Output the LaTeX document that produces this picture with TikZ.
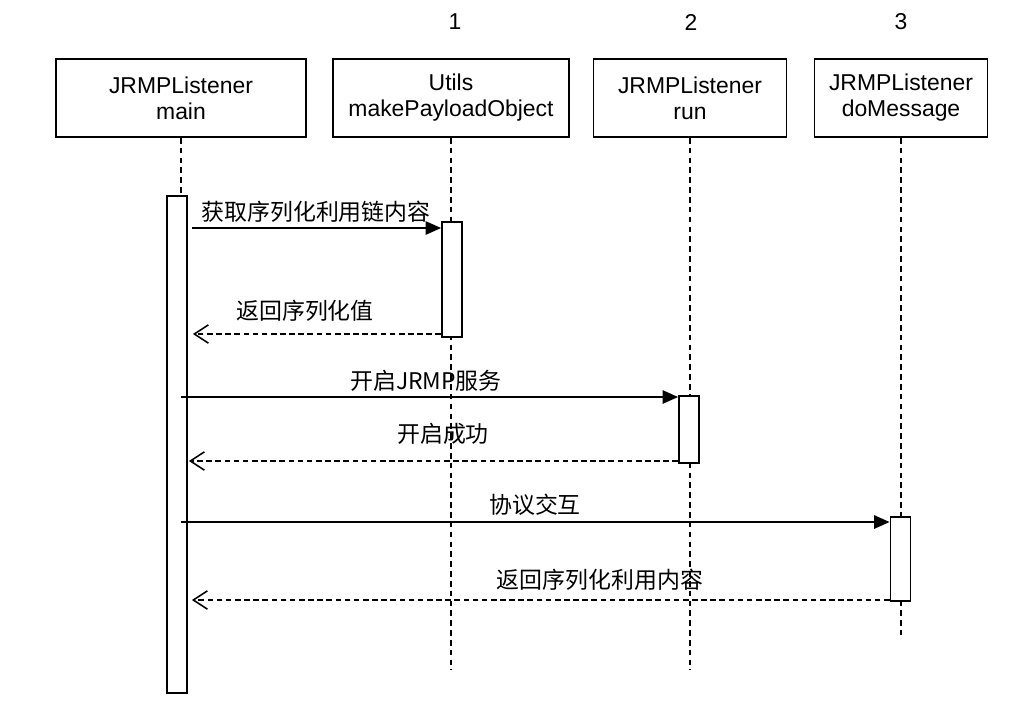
\documentclass[tikz,border=0pt]{standalone}
\usepackage{fontspec}
\setmainfont{Liberation Sans}
\newfontfamily\cjk{Noto Sans CJK SC}
\usepackage{tikz}
\usetikzlibrary{positioning,calc,arrows.meta}

\newcommand\lbl{\fontsize{16.3}{18.4}\selectfont}

\tikzset{
  obj/.style={draw, line width=1.3pt, minimum height=1.95cm, align=center, font=\lbl},
  bar/.style={draw, fill=white, line width=1.3pt, minimum width=0.5cm, inner sep=0pt, anchor=north},
  life/.style={line width=1pt, dash pattern=on 4pt off 3pt},
  call/.style={line width=1.2pt, -{Triangle[length=11pt,width=9.5pt]}},
  reply/.style={line width=1.1pt, dash pattern=on 4pt off 2.5pt, -{Straight Barb[length=10pt,width=13pt,line width=1.1pt]}},
  msg/.style={font=\cjk\lbl}
}

\begin{document}
\begin{tikzpicture}[x=0.025cm, y=-0.025cm]
\useasboundingbox (0,0) rectangle (1033,700);

% objects
\node[obj, minimum width=6.25cm] (main) at (181,98) {JRMPListener\\main};
\node[obj, minimum width=5.9cm] (utils) at (451,98) {Utils\\makePayloadObject};
\node[obj, minimum width=4.825cm] (run) at (690,98) {JRMPListener\\run};
\node[obj, minimum width=4.325cm] (domsg) at (901,98) {JRMPListener\\doMessage};

% step numbers
\node[font=\lbl] (n1) at (455,22) {1};
\node[font=\lbl] (n2) at (691,22) {2};
\node[font=\lbl] (n3) at (901,22) {3};

% lifelines
\coordinate (utilsend) at (451,670);
\coordinate (runend) at (690,670);
\coordinate (domsgend) at (901,635);
\draw[life] (main.south) -- (main |- 0,195);
\draw[life] (utils.south) -- (utilsend);
\draw[life] (run.south) -- (runend);
\draw[life] (domsg.south) -- (domsgend);

% activation bars
\node[bar, minimum height=12.425cm] (mainbar) at (177,195) {};
\node[bar, minimum height=2.875cm] (utilsbar) at (452,221) {};
\node[bar, minimum height=1.675cm] (runbar) at (689,395) {};
\node[bar, minimum height=2.1cm] (domsgbar) at (900.5,516) {};

% messages
\draw[call] ($(mainbar.east |- 0,228)+(4,0)$) -- (utilsbar.west |- 0,228);
\node[msg] (m1) at (316,212) {获取序列化利用链内容};
\draw[reply] (utilsbar.west |- 0,334) -- ($(mainbar.east |- 0,334)+(5,0)$);
\node[msg] (m2) at (305,311) {返回序列化值};

\draw[call] (main |- 0,397) -- (runbar.west |- 0,397);
\node[msg] (m3) at (426,381) {开启JRMP服务};
\draw[reply] (runbar.west |- 0,461) -- ($(mainbar.east |- 0,461)+(1,0)$);
\node[msg] (m4) at (443,434) {开启成功};

\draw[call] (main |- 0,522) -- (domsgbar.west |- 0,522);
\node[msg] (m5) at (535,505) {协议交互};
\draw[reply] (domsgbar.west |- 0,600) -- ($(mainbar.east |- 0,600)+(4,0)$);
\node[msg] (m6) at (600,580) {返回序列化利用内容};
\end{tikzpicture}
\end{document}
